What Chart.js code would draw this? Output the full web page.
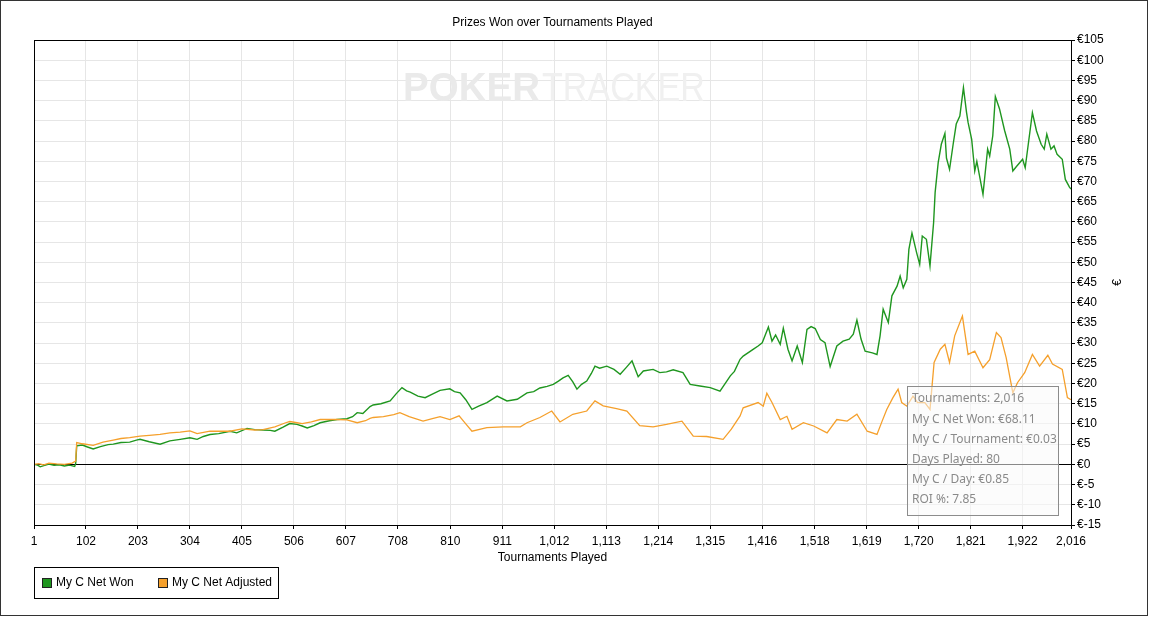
<!DOCTYPE html>
<html>
<head>
<meta charset="utf-8">
<title>Prizes Won over Tournaments Played</title>
<script src="https://cdn.jsdelivr.net/npm/chart.js@4.4.1/dist/chart.umd.min.js"></script>
<style>
  html, body { margin: 0; padding: 0; background: #fff; }
  #wrap { width: 1149px; height: 617px; }
</style>
</head>
<body>
<div id="wrap"><canvas id="prizesChart" width="1149" height="617"></canvas></div>
<script>
// Values (tournament number -> cumulative euros)
const tickLabels = [1, 102, 203, 304, 405, 506, 607, 708, 810, 911, 1012, 1113, 1214, 1315, 1416, 1518, 1619, 1720, 1821, 1922, 2016];

const wonT = [1, 8, 13, 20, 30, 40, 50, 60, 70, 80, 82, 84, 95, 105, 116, 130, 145, 155, 170, 187,
  200, 207, 225, 246, 265, 285, 304, 318, 330, 343, 360, 382, 395, 415, 430, 446, 460, 469, 485, 498,
  512, 522, 532, 545, 557, 575, 590, 609, 620, 629, 640, 654, 660, 675, 693, 705, 716, 725, 732, 747,
  761, 775, 790, 809, 818, 829, 840, 852, 865, 881, 901, 920, 940, 959, 972, 984, 998, 1010, 1020, 1029,
  1039, 1048, 1056, 1065, 1075, 1084, 1091, 1100, 1114, 1128, 1140, 1152, 1163, 1175, 1185, 1204, 1217, 1230, 1243, 1262,
  1276, 1295, 1315, 1334, 1354, 1362, 1373, 1379, 1399, 1408, 1416, 1428, 1435, 1442, 1451, 1457, 1466, 1474, 1484, 1494,
  1503, 1511, 1519, 1529, 1538, 1548, 1561, 1573, 1585, 1593, 1600, 1608, 1616, 1630, 1639, 1645, 1651, 1661, 1668, 1678,
  1684, 1690, 1697, 1701, 1707, 1716, 1722, 1727, 1735, 1742, 1749, 1752, 1758, 1764, 1771, 1774, 1780, 1787, 1793, 1800,
  1807, 1813, 1816, 1823, 1829, 1833, 1845, 1854, 1858, 1864, 1869, 1877, 1887, 1897, 1903, 1910, 1922, 1927, 1941, 1949,
  1958, 1964, 1969, 1977, 1983, 1989, 1999, 2005, 2013, 2016];
const wonV = [0, -0.2, -0.6, -0.3, 0.1, -0.2, -0.1, -0.4, -0.2, -0.5, 0.2, 4.6, 4.8, 4.3, 3.8, 4.4, 4.9, 5.0, 5.4, 5.5,
  6.0, 6.2, 5.6, 5.0, 5.8, 6.2, 6.6, 6.2, 6.9, 7.4, 7.6, 8.2, 7.8, 8.9, 8.6, 8.5, 8.4, 8.2, 9.2, 10.1,
  9.9, 9.5, 9.0, 9.6, 10.3, 10.8, 11.1, 11.3, 11.8, 12.8, 12.6, 14.3, 14.7, 15.0, 15.7, 17.5, 19.0, 18.2, 17.9, 16.9,
  16.5, 17.4, 18.3, 18.7, 18.0, 17.7, 16.0, 13.6, 14.4, 15.3, 16.9, 15.7, 16.1, 17.7, 18.0, 18.9, 19.3, 19.8, 20.6, 21.4,
  22.0, 20.4, 18.6, 19.8, 20.6, 22.5, 24.3, 23.8, 24.3, 23.5, 22.3, 24.0, 25.6, 21.7, 23.1, 23.5, 22.7, 22.9, 23.4, 22.7,
  19.8, 19.4, 19.0, 18.1, 21.9, 23.0, 26.0, 26.8, 28.5, 29.3, 30.1, 34.0, 30.5, 32.0, 29.7, 33.7, 28.5, 25.6, 29.3, 25.2,
  33.4, 34.1, 33.6, 30.9, 30.1, 24.2, 29.3, 30.5, 31.0, 32.2, 35.7, 31.0, 28.0, 27.6, 27.2, 31.8, 38.4, 35.1, 41.7, 44.1,
  46.6, 43.7, 45.8, 53.2, 57.2, 52.4, 49.5, 56.5, 55.7, 49.1, 59.8, 67.3, 74.7, 79.2, 81.9, 75.8, 73.0, 79.2, 84.2, 86.2,
  93.2, 87.1, 84.6, 80.4, 72.6, 75.0, 66.8, 78.0, 76.3, 81.3, 91.0, 88.0, 82.6, 78.0, 72.6, 73.7, 75.5, 73.4, 87.0, 82.5,
  79.2, 78.0, 81.7, 78.0, 78.8, 76.7, 75.5, 70.5, 68.6, 68.11];

const adjT = [1, 10, 20, 30, 45, 60, 75, 82, 84, 95, 116, 135, 155, 170, 187, 207, 225, 246, 265, 285,
  304, 318, 343, 382, 405, 430, 446, 469, 490, 498, 512, 522, 540, 557, 590, 609, 629, 645, 654, 660,
  680, 700, 712, 730, 757, 775, 790, 809, 827, 840, 852, 881, 913, 946, 959, 984, 1007, 1023, 1048, 1075,
  1091, 1107, 1133, 1153, 1178, 1204, 1230, 1260, 1282, 1308, 1340, 1356, 1373, 1379, 1408, 1418, 1425, 1435, 1451, 1464,
  1474, 1496, 1516, 1542, 1561, 1581, 1600, 1620, 1639, 1649, 1658, 1670, 1680, 1687, 1697, 1709, 1718, 1732, 1742, 1750,
  1762, 1771, 1780, 1790, 1805, 1816, 1829, 1845, 1858, 1871, 1880, 1890, 1903, 1912, 1926, 1941, 1955, 1971, 1980, 1999,
  2009, 2016];
const adjV = [0, 0.2, -0.1, 0.3, 0.1, 0.0, 0.3, 0.8, 5.4, 5.1, 4.7, 5.5, 6.0, 6.4, 6.6, 7.0, 7.2, 7.4, 7.8, 8.0,
  8.3, 7.6, 8.2, 8.2, 8.8, 8.5, 8.6, 9.3, 10.3, 10.6, 10.3, 10.1, 10.5, 11.1, 11.1, 11.0, 10.3, 10.8, 11.4, 11.6,
  11.8, 12.3, 12.8, 11.8, 10.7, 11.3, 11.8, 11.1, 12.0, 10.0, 8.2, 9.1, 9.3, 9.3, 10.3, 11.6, 13.2, 10.5, 12.4, 13.2,
  15.7, 14.5, 13.8, 13.2, 9.6, 9.3, 9.9, 10.7, 7.0, 6.9, 6.2, 8.7, 12.0, 14.0, 15.3, 14.4, 17.6, 15.3, 11.1, 11.9,
  8.7, 10.3, 9.5, 7.8, 11.1, 10.7, 12.4, 8.2, 7.4, 10.7, 13.6, 16.5, 18.6, 15.3, 14.4, 16.9, 15.3, 15.3, 13.6, 25.2,
  28.5, 29.7, 25.2, 31.8, 36.7, 27.2, 28.0, 23.9, 25.9, 32.6, 31.4, 26.4, 17.7, 20.2, 22.7, 27.2, 24.3, 27.0, 24.8, 23.5,
  16.5, 16.0];

const seriesNames = ['My C Net Won', 'My C Net Adjusted'];
const seriesColors = ['#1f961f', '#f5a02c'];
const statLines = ['Tournaments: 2,016', 'My C Net Won: €68.11', 'My C / Tournament: €0.03',
  'Days Played: 80', 'My C / Day: €0.85', 'ROI %: 7.85'];

function toPoints(xs, ys) {
    return xs.map((x, i) => ({ x: x, y: ys[i] }));
}

const fmt = v => Number(v).toLocaleString('en-US');

// everything around the plot that Chart.js has no built-in for
const decorations = {
    id: 'decorations',
    beforeDatasetsDraw(chart) {
        const ctx = chart.ctx;
        ctx.save();
        // faint watermark
        ctx.textBaseline = 'middle';
        ctx.textAlign = 'left';
        ctx.fillStyle = '#eaeaea';
        ctx.font = 'bold 40px "Liberation Sans", Arial, sans-serif';
        const w = ctx.measureText('POKER').width;
        ctx.save();
        ctx.translate(403, 90);
        ctx.scale(137 / w, 1);
        ctx.fillText('POKER', 0, 0);
        ctx.restore();
        ctx.fillStyle = '#f0f0f0';
        ctx.font = '40px "Liberation Sans", Arial, sans-serif';
        const w2 = ctx.measureText('TRACKER').width;
        ctx.translate(542, 90);
        ctx.scale(163 / w2, 1);
        ctx.fillText('TRACKER', 0, 0);
        ctx.restore();
    },
    afterDraw(chart) {
        const ctx = chart.ctx;
        const a = chart.chartArea;
        ctx.save();

        // plot frame
        ctx.strokeStyle = '#000';
        ctx.lineWidth = 1;
        ctx.strokeRect(a.left + 0.5, a.top + 0.5, a.right - a.left, a.bottom - a.top);

        // outer frame
        ctx.strokeStyle = '#333';
        ctx.strokeRect(0.5, 0.5, 1147, 615);

        // title
        ctx.fillStyle = '#000';
        ctx.font = '12px "Liberation Sans", Arial, sans-serif';
        ctx.textAlign = 'center';
        ctx.textBaseline = 'middle';
        ctx.fillText('Prizes Won over Tournaments Played', (a.left + a.right) / 2, 23);

        // axis titles
        ctx.fillText('Tournaments Played', (a.left + a.right) / 2, 558);
        ctx.save();
        ctx.translate(1118, (a.top + a.bottom) / 2);
        ctx.rotate(-Math.PI / 2);
        ctx.fillText('€', 0, 0);
        ctx.restore();

        // legend box
        ctx.strokeStyle = '#000';
        ctx.strokeRect(34.5, 567.5, 244, 31);
        ctx.textAlign = 'left';
        const items = [[42, 56], [158, 172]];
        items.forEach((it, i) => {
            ctx.fillStyle = seriesColors[i];
            ctx.fillRect(it[0], 578, 9, 9);
            ctx.strokeStyle = '#222';
            ctx.strokeRect(it[0] + 0.5, 578.5, 9, 9);
            ctx.fillStyle = '#000';
            ctx.fillText(seriesNames[i], it[1], 583);
        });

        // stats box (semi transparent, lines show through)
        ctx.fillStyle = 'rgba(250,250,250,0.55)';
        ctx.fillRect(908, 386, 151, 129);
        ctx.strokeStyle = '#8c8c8c';
        ctx.strokeRect(907.5, 386.5, 151, 129);
        ctx.fillStyle = '#8a8a8a';
        ctx.font = '12px "Noto Sans", "Open Sans", sans-serif';
        statLines.forEach((s, i) => {
            ctx.fillText(s, 912, 399 + i * 20.2);
        });

        ctx.restore();
    }
};

document.addEventListener('DOMContentLoaded', function() {
    var ctx = document.getElementById('prizesChart').getContext('2d');

    var prizesChart = new Chart(ctx, {
        type: 'line',
        data: {
            datasets: [{
                label: seriesNames[1],
                data: toPoints(adjT, adjV),
                borderColor: seriesColors[1],
                borderWidth: 1.3,
                pointRadius: 0,
                tension: 0
            }, {
                label: seriesNames[0],
                data: toPoints(wonT, wonV),
                borderColor: seriesColors[0],
                borderWidth: 1.4,
                pointRadius: 0,
                tension: 0
            }]
        },
        options: {
            responsive: false,
            animation: false,
            devicePixelRatio: 1,
            layout: {
                padding: { left: 34, top: 40, right: 10, bottom: 62 }
            },
            plugins: {
                legend: { display: false },
                title: { display: false },
                tooltip: { enabled: false }
            },
            scales: {
                x: {
                    type: 'linear',
                    min: 1,
                    max: 2016,
                    afterBuildTicks: function(scale) {
                        scale.ticks = tickLabels.map(v => ({ value: v }));
                    },
                    afterFit: function(scale) {
                        scale.height = 30;
                    },
                    grid: {
                        color: '#e6e6e6',
                        tickColor: '#000',
                        tickLength: 4,
                        drawTicks: true
                    },
                    border: { color: '#000' },
                    ticks: {
                        autoSkip: false,
                        maxRotation: 0,
                        padding: 5,
                        color: '#000',
                        font: { family: '"Liberation Sans", Arial, sans-serif', size: 12 },
                        callback: v => fmt(v)
                    }
                },
                y: {
                    position: 'right',
                    min: -15,
                    max: 105,
                    afterFit: function(scale) {
                        scale.width = 68;
                    },
                    grid: {
                        color: ctx => ctx.tick && ctx.tick.value === 0 ? '#000' : '#e6e6e6',
                        tickColor: '#000',
                        tickLength: 4
                    },
                    border: { color: '#000' },
                    ticks: {
                        stepSize: 5,
                        padding: 2,
                        color: '#000',
                        font: { family: '"Liberation Sans", Arial, sans-serif', size: 12 },
                        callback: v => '€' + v
                    }
                }
            }
        },
        plugins: [decorations]
    });
});
</script>
</body>
</html>
